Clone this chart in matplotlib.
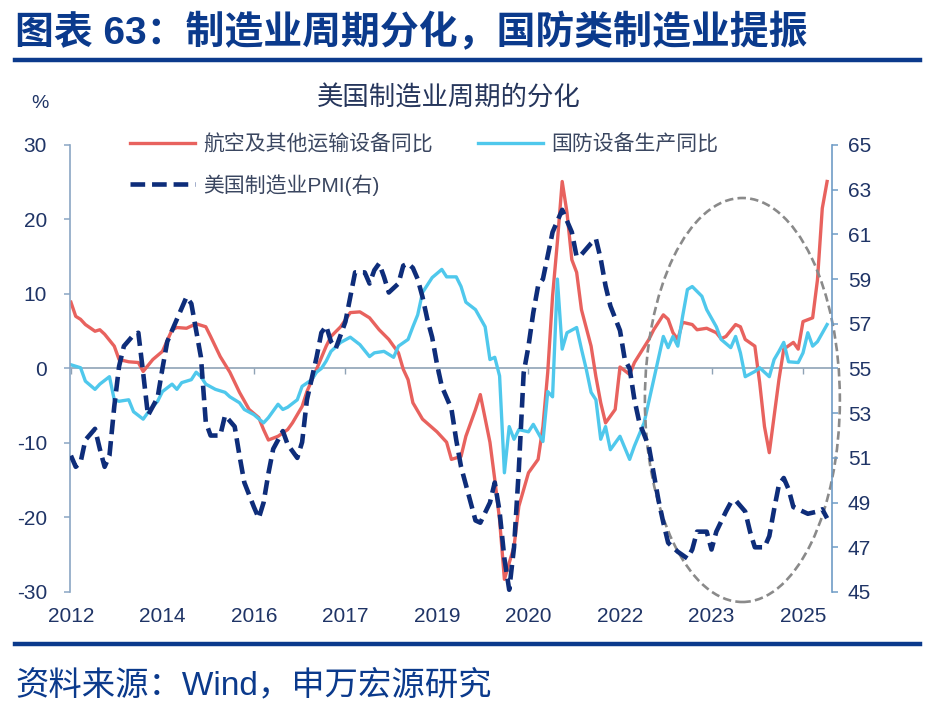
import matplotlib
matplotlib.use("Agg")
import matplotlib.pyplot as plt
from matplotlib.patches import Ellipse

plt.rcParams['font.family'] = ['Liberation Sans', 'Noto Sans CJK SC', 'DejaVu Sans']
plt.rcParams['axes.unicode_minus'] = False

# x = months counted from 2012-11
tick_months = [0, 19, 38, 57, 76, 95, 114, 133, 152]
tick_labels = ['2012', '2014', '2016', '2017', '2019', '2020', '2022', '2023', '2025']

# 航空及其他运输设备同比 (%)
aero_m = [0, 1, 2, 3, 5, 6, 7, 9, 10, 12, 14, 15, 17, 19, 21, 22, 24, 26, 28, 29,
          31, 33, 35, 37, 39, 40, 41, 43, 45, 46, 48, 49, 51, 53, 54, 56, 58, 60, 62, 64,
          66, 68, 69, 70, 71, 73, 76, 78, 79, 81, 82, 84, 85, 87, 88, 89, 90, 92, 93, 95,
          97, 98, 99, 100, 101, 102, 103, 104, 105, 106, 108, 109, 110, 111, 113, 114, 116, 117, 120, 121,
          123, 124, 125, 126, 127, 129, 130, 132, 134, 135, 136, 138, 139, 140, 142, 143, 144, 145, 146, 147,
          148, 150, 151, 152, 154, 155, 156, 157]
aero_v = [8.9, 7.0, 6.6, 5.9, 5.0, 5.2, 4.6, 3.0, 1.2, 0.9, 0.8, -0.4, 1.2, 2.3, 5.2, 5.5, 5.4, 6.0, 5.6, 4.3,
          1.6, -0.5, -3.2, -5.5, -6.6, -8.2, -9.6, -9.1, -8.2, -7.3, -5.1, -3.1, -0.1, 3.0, 4.3, 5.6, 7.5, 7.6, 6.8, 5.2,
          3.9, 2.1, -0.1, -1.5, -4.6, -6.8, -8.5, -9.9, -12.2, -11.8, -9.1, -5.5, -3.5, -9.9, -14.9, -20.3, -28.3, -23.9, -18.5, -14.0,
          -12.2, -7.8, -0.5, 9.7, 17.0, 25.1, 20.9, 14.6, 12.9, 7.9, 3.0, -1.1, -4.6, -7.3, -5.5, 0.2, -0.8, 0.8, 3.9, 5.2,
          7.2, 6.6, 4.8, 3.9, 6.2, 5.9, 5.2, 5.4, 4.8, 4.0, 4.3, 5.9, 5.6, 3.9, 3.0, -1.9, -7.8, -11.3, -6.4, -1.5,
          2.6, 3.5, 2.6, 6.3, 6.8, 11.9, 21.5, 25.1]

# 国防设备生产同比 (%)
def_m = [0, 2, 3, 5, 6, 8, 9, 10, 12, 13, 15, 16, 18, 19, 21, 22, 23, 25, 26, 27,
         28, 30, 32, 33, 35, 36, 38, 40, 41, 43, 44, 45, 47, 48, 50, 51, 52, 53, 54, 56,
         58, 60, 62, 63, 65, 67, 68, 70, 71, 72, 73, 75, 77, 78, 80, 81, 82, 84, 86, 87,
         88, 89, 90, 91, 92, 93, 95, 96, 98, 99, 100, 101, 102, 103, 105, 106, 107, 108, 109, 110,
         111, 112, 114, 116, 117, 119, 121, 123, 124, 125, 126, 127, 128, 129, 131, 132, 134, 135, 137, 138,
         139, 140, 142, 143, 145, 146, 147, 148, 149, 151, 152, 153, 154, 155, 157]
def_v = [0.5, 0.1, -1.7, -2.8, -2.1, -1.1, -4.2, -4.4, -4.2, -5.8, -6.8, -5.9, -4.4, -3.1, -2.1, -2.8, -1.9, -1.5, -0.5, -1.1,
         -2.1, -2.8, -3.2, -3.8, -4.6, -5.5, -6.2, -7.3, -6.6, -4.8, -5.5, -5.2, -4.2, -2.4, -1.5, -0.5, 0.0, 1.0, 2.3, 3.5,
         4.2, 3.2, 1.6, 2.1, 2.3, 1.5, 3.0, 3.9, 5.6, 7.2, 10.2, 12.2, 13.3, 12.3, 12.3, 11.0, 8.9, 7.9, 5.6, 1.2,
         1.5, -1.0, -14.0, -7.8, -9.5, -8.2, -8.5, -7.5, -9.8, -3.1, -3.8, 12.0, 2.6, 4.8, 5.5, 2.6, -0.1, -3.2, -4.2, -9.5,
         -7.8, -10.9, -9.1, -12.2, -10.4, -7.3, -1.5, 4.3, 2.8, 4.3, 3.0, 7.0, 10.6, 11.0, 9.7, 7.9, 5.6, 3.9, 2.8, 4.3,
         2.1, -1.1, -0.4, 0.1, -1.1, 1.2, 2.3, 3.5, 0.9, 0.8, 2.1, 4.8, 3.0, 3.6, 5.9]

# 美国制造业PMI (右轴)
pmi_m = [0, 1, 2, 3, 5, 6, 7, 8, 9, 10, 11, 13, 14, 15, 16, 18, 19, 20, 22, 24,
         25, 27, 28, 29, 31, 32, 34, 35, 36, 38, 39, 40, 41, 42, 44, 45, 47, 48, 49, 51,
         52, 53, 54, 55, 57, 58, 59, 61, 62, 63, 64, 65, 66, 68, 69, 70, 71, 72, 73, 74,
         75, 76, 77, 79, 80, 81, 83, 84, 85, 87, 88, 89, 90, 91, 92, 93, 94, 95, 96, 97,
         98, 100, 102, 104, 105, 106, 108, 109, 110, 111, 112, 114, 115, 116, 117, 118, 120, 121, 122, 123,
         124, 126, 128, 129, 130, 132, 133, 134, 136, 137, 138, 140, 141, 142, 144, 145, 146, 147, 148, 149,
         150, 151, 153, 155, 156, 157]
pmi_v = [51.1, 50.6, 50.8, 51.8, 52.3, 51.4, 50.6, 51.1, 53.3, 55.1, 56.0, 56.5, 56.6, 54.8, 52.9, 53.7, 55.0, 56.2, 57.2, 58.2,
         57.9, 55.5, 52.6, 52.0, 52.0, 52.9, 52.4, 51.1, 49.9, 48.8, 48.3, 49.0, 50.3, 51.4, 52.2, 51.6, 51.0, 51.7, 53.6, 55.5,
         56.6, 56.9, 56.2, 55.9, 57.1, 58.2, 59.3, 59.3, 58.8, 59.4, 59.7, 59.1, 58.4, 58.8, 59.6, 59.7, 59.5, 59.0, 58.2, 57.2,
         56.4, 55.2, 54.2, 53.2, 51.8, 50.6, 49.0, 48.2, 48.1, 49.0, 49.9, 48.6, 46.5, 45.1, 47.0, 50.5, 54.8, 56.0, 57.5, 58.7,
         59.0, 61.1, 62.1, 61.1, 60.0, 60.1, 60.6, 60.8, 59.9, 58.7, 57.8, 56.7, 55.4, 55.0, 53.6, 52.6, 51.5, 50.3, 49.1, 48.1,
         47.2, 46.8, 46.5, 46.9, 47.7, 47.7, 46.9, 47.7, 48.6, 49.0, 49.1, 48.6, 47.7, 47.0, 47.0, 47.5, 48.7, 49.8, 50.1, 49.6,
         48.8, 48.7, 48.5, 48.6, 48.7, 48.3]

navy = '#0B3A8C'
text_c = '#1F3466'
axis_c = '#8AA6C4'

fig = plt.figure(figsize=(9.34, 7.16), dpi=100)

# 标题 + 分隔线
fig.text(0.016, 0.954, '图表 63：制造业周期分化，国防类制造业提振', fontsize=28,
         fontweight='bold', color=navy, ha='left', va='center')
fig.add_artist(plt.Line2D([0.016, 0.985], [0.916, 0.916], color=navy, lw=3.2))
fig.add_artist(plt.Line2D([0.016, 0.985], [0.101, 0.101], color=navy, lw=3.2))
fig.text(0.016, 0.043, '资料来源：Wind，申万宏源研究', fontsize=24, color=navy,
         ha='left', va='center')

fig.text(0.481, 0.863, '美国制造业周期的分化', fontsize=19, color='#26365C',
         ha='center', va='center')
fig.text(0.043, 0.856, '%', fontsize=14, color=text_c, ha='center', va='center')

ax = fig.add_axes([0.0749, 0.1732, 0.8158, 0.6243])
ax2 = ax.twinx()

l1, = ax.plot(aero_m, aero_v, color='#E8625E', lw=2.4, label='航空及其他运输设备同比')
l2, = ax.plot(def_m, def_v, color='#4FC8EC', lw=2.4, label='国防设备生产同比')
l3, = ax2.plot(pmi_m, pmi_v, color='#0E2D7A', lw=3.3, dashes=(3.2, 1.5),
               dash_capstyle='butt', label='美国制造业PMI(右)')

ax.set_xlim(-0.2, 158.0)
ax.set_ylim(-30, 30)
ax2.set_ylim(45, 65)
ax.set_yticks(range(-30, 31, 10))
ax2.set_yticks(range(45, 66, 2))
ax.set_xticks(tick_months, labels=tick_labels)

for s in ['top', 'right', 'bottom']:
    ax.spines[s].set_visible(False)
for s in ['top', 'left', 'bottom']:
    ax2.spines[s].set_visible(False)
ax.spines['left'].set_color(axis_c)
ax2.spines['right'].set_color('#6F9CC6')
ax.spines['left'].set_linewidth(1.2)
ax2.spines['right'].set_linewidth(1.2)

ax.tick_params(axis='y', direction='out', length=4.5, width=1.1, color=axis_c,
               pad=12, labelsize=15, labelcolor=text_c)
ax2.tick_params(axis='y', direction='out', length=4.5, width=1.1, color='#6F9CC6',
                pad=7, labelsize=15, labelcolor=text_c)
ax.tick_params(axis='x', length=0, pad=11, labelsize=15, labelcolor=text_c)

# 零轴线及刻度
zero = ax.secondary_xaxis(0.5)
zero.set_alignment('bottom')
zero.set_xticks(tick_months, labels=[])
zero.spines['bottom'].set_color('#8FA3B6')
zero.spines['bottom'].set_linewidth(1.2)
zero.tick_params(axis='x', direction='out', length=4, width=1.0, color='#8FA3B6')

# 圈注
ring = Ellipse((0.8825, 0.4295), 0.2559, 0.9038, transform=ax2.transAxes,
               fill=False, edgecolor='#8A8A8A', lw=1.9, ls=(0, (3.2, 1.6)), clip_on=False)
ax2.add_patch(ring)

leg = ax2.legend(handles=[l1, l3, l2], ncol=2, loc='upper left',
                 bbox_to_anchor=(130 / 934, 1 - 134 / 716), bbox_transform=fig.transFigure,
                 frameon=False, fontsize=15, handlelength=3.1, handletextpad=0.4,
                 columnspacing=2.2, labelspacing=0.95, borderpad=0, borderaxespad=0)
for t in leg.get_texts():
    t.set_color('#3A4660')

fig.savefig('out.png', dpi=100)
